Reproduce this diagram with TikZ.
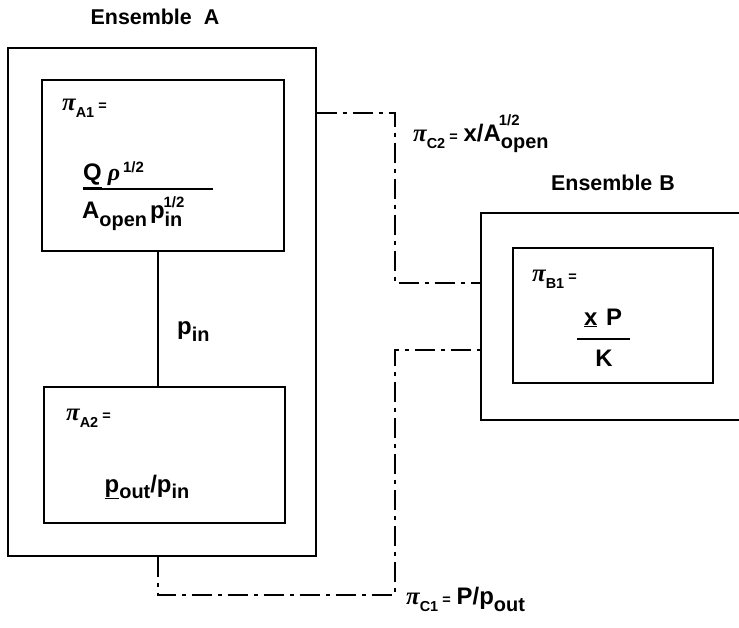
\documentclass[tikz,border=0pt]{standalone}
\usepackage{fontspec}
\setmainfont{Liberation Sans}
\newfontfamily\grk{Liberation Serif}
\newcommand{\gpi}{{\fontsize{25}{26}\selectfont\grk\bfseries\itshape π}}
\newcommand{\grho}{{\grk\bfseries\itshape ρ}}
\newcommand{\pisub}[1]{\gpi\raisebox{-7bp}{\fontsize{14.5}{16}\selectfont\bfseries #1}}
\newcommand{\eqs}{{\fontsize{14.5}{16}\selectfont\bfseries\hspace{4bp}=}}
\newcommand{\lowsub}[2]{\raisebox{-#1}{\fontsize{20}{22}\selectfont\bfseries #2}}
\newcommand{\half}{{\fontsize{15}{16}\selectfont\bfseries 1/2}}
\newcommand{\ul}[1]{\underline{#1}}
\begin{document}
\begin{tikzpicture}[x=1bp,y=-1bp,
  outerbox/.style={draw, line width=1.3bp, inner sep=0pt},
  innerbox/.style={draw, line width=2bp, inner sep=0pt},
  link/.style={line width=1.3bp},
  dashdot/.style={line width=1.3bp, dash pattern=on 20bp off 6bp on 4bp off 6bp},
  title/.style={font=\fontsize{21.5}{24}\selectfont\bfseries, inner sep=0pt},
  lab/.style={font=\fontsize{24}{26}\selectfont\bfseries, inner sep=0pt},
  fracrule/.style={line width=1.6bp}]
\useasboundingbox (0,0) rectangle (739,628);
\clip (0,0) rectangle (739,628);
% Ensemble A
\node[title] (tA) at (155,17) {Ensemble\hspace{12bp}A};
\node[outerbox, minimum width=308bp, minimum height=508bp] (ensA) at (162,302) {};
\node[innerbox, minimum width=242bp, minimum height=171bp] (A1) at (163,165.5) {};
\node[innerbox, minimum width=241bp, minimum height=136bp] (A2) at (164.5,455) {};
% Ensemble B
\node[title] (tB) at (613,183) {Ensemble\hspace{7bp}B};
\node[outerbox, minimum width=320bp, minimum height=207bp] (ensB) at (641,316.5) {};
\node[innerbox, minimum width=200bp, minimum height=135bp] (B1) at (613,315.5) {};
% texts in A1
\node[lab, anchor=west] (pA1) at (62,108) {\pisub{A1}\eqs};
\node[lab, anchor=base west] (numA) at (83,181) {\ul{Q}\hspace{6bp}\grho\hspace{3bp}\raisebox{8bp}{\half}};
\node[lab, anchor=base west] (denA) at (82,219) {A\lowsub{7bp}{open}\hspace{3bp}p\rlap{\raisebox{11bp}{\hspace{-1bp}\half}}\lowsub{7bp}{in}};
\draw[fracrule] (83,189) -- (213,189);
% link label
\node[lab, anchor=base west] (pin) at (177,334) {p\lowsub{7bp}{in}};
% texts in A2
\node[lab, anchor=west] (pA2) at (66,418) {\pisub{A2}\eqs};
\node[lab, anchor=base] (pratio) at (147,492) {\ul{p}\lowsub{6bp}{out}/p\lowsub{6bp}{in}};
% texts in B1
\node[lab, anchor=west] (pB1) at (532,279) {\pisub{B1}\eqs};
\node[lab, anchor=base] (numB) at (603,325) {\ul{x}\hspace{2bp} P};
\node[lab, anchor=base] (denB) at (604,366) {K};
\draw[fracrule] (577,339) -- (630,339);
% C labels
\node[lab, anchor=base west] (pC2) at (413,142) {\pisub{C2}\eqs\hspace{6bp}x/A\rlap{\raisebox{16bp}{\hspace{-2bp}\half}}\lowsub{7bp}{open}};
\node[lab, anchor=base west] (pC1) at (406,604) {\pisub{C1}\eqs\hspace{6bp}P/p\lowsub{7bp}{out}};
% connectors
\coordinate (k1) at (395,113);
\coordinate (k2) at (395,283);
\coordinate (k3) at (395,595);
\coordinate (k4) at (395,350);
\coordinate (lx) at (158,0);
\draw[link] (A1.south -| lx) -- (A2.north -| lx);
\draw[dashdot] (k1 -| ensA.east) -- (k1) -- (k2) -- (k2 -| ensB.west);
\draw[dashdot] (ensA.south -| lx) -- (k3 -| lx) -- (k3) -- (k4) -- (k4 -| ensB.west);
\end{tikzpicture}
\end{document}
